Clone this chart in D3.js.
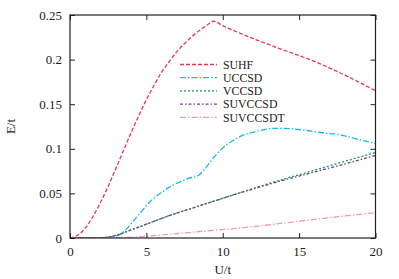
<!DOCTYPE html>
<html>
<head>
<meta charset="utf-8">
<script src="https://d3js.org/d3.v7.min.js"></script>
<style>
  body { margin: 0; background: #fff; }
</style>
</head>
<body>
<script>
// values
var suhfU = [0, 0.5, 1, 1.5, 2, 2.5, 3, 3.5, 4, 4.5, 5, 5.5, 6, 6.5, 7, 7.5, 8, 8.5, 9, 9.4, 10, 11, 12, 13, 14, 15, 16, 17, 18, 19, 20];
var suhfE = [0, 0.003, 0.011, 0.024, 0.040, 0.058, 0.078, 0.098, 0.118, 0.137, 0.155, 0.171, 0.186, 0.198, 0.209, 0.218, 0.226, 0.233, 0.239, 0.243, 0.238, 0.2305, 0.2235, 0.217, 0.2105, 0.2045, 0.198, 0.1905, 0.1825, 0.174, 0.165];

var uccsdU = [0, 1, 2, 2.5, 3, 3.3, 3.7, 4, 4.6, 5.2, 5.9, 6.5, 7.2, 7.8, 8.4, 8.8, 9.4, 10, 10.7, 11.3, 12.2, 13.5, 14.5, 15.5, 16.5, 17.7, 19, 20];
var uccsdE = [0, 0, 0.0005, 0.001, 0.002, 0.004, 0.010, 0.016, 0.028, 0.040, 0.050, 0.057, 0.063, 0.067, 0.070, 0.077, 0.090, 0.101, 0.1095, 0.115, 0.1195, 0.123, 0.1225, 0.1205, 0.118, 0.1155, 0.110, 0.106];

var vccsdU = [0, 1, 2, 2.5, 3, 4, 5, 6, 7, 8, 9, 10, 11, 12, 13, 14, 15, 16, 17, 18, 19, 20];
var vccsdE = [0, 0, 0.0003, 0.001, 0.003, 0.009, 0.0155, 0.022, 0.028, 0.0335, 0.039, 0.0445, 0.050, 0.0555, 0.061, 0.066, 0.071, 0.076, 0.081, 0.086, 0.091, 0.0958];

var suvccsdU = [0, 1, 2, 2.5, 3, 4, 5, 6, 7, 8, 9, 10, 11, 12, 13, 14, 15, 16, 17, 18, 19, 20];
var suvccsdE = [0, 0, 0.0003, 0.001, 0.003, 0.009, 0.0155, 0.022, 0.028, 0.0335, 0.039, 0.0445, 0.050, 0.055, 0.060, 0.065, 0.0695, 0.074, 0.0785, 0.083, 0.0878, 0.0925];

var suvccsdtU = [0, 2, 3, 4, 5, 6, 7, 8, 9, 10, 11, 12, 14, 16, 18, 20];
var suvccsdtE = [0, 0, 0.0002, 0.0008, 0.002, 0.0035, 0.005, 0.0065, 0.008, 0.0095, 0.011, 0.0128, 0.0168, 0.0208, 0.0247, 0.0285];

var xTicks = [0, 5, 10, 15, 20];
var yTicks = [0, 0.05, 0.1, 0.15, 0.2, 0.25];
var yTickLabels = ["0", "0.05", "0.1", "0.15", "0.2", "0.25"];

var seriesNames = ["SUHF", "UCCSD", "VCCSD", "SUVCCSD", "SUVCCSDT"];
var seriesColors = ["#e8365a", "#1ab6ee", "#0f9a6e", "#7a3f80", "#f59aac"];
var seriesDash = ["4,2", "6,2,1.5,2", "2,2", "3,2,1.5,2", "6,2,1.5,2"];
var seriesU = [suhfU, uccsdU, vccsdU, suvccsdU, suvccsdtU];
var seriesE = [suhfE, uccsdE, vccsdE, suvccsdE, suvccsdtE];

var FONT = "Liberation Serif, DejaVu Serif, serif";
var width = 399, height = 279;
var margin = {left: 70, right: 23.5, top: 15, bottom: 41};

var svg = d3.select("body").append("svg")
  .attr("width", width)
  .attr("height", height);

var x = d3.scaleLinear().domain([0, 20]).range([margin.left, width - margin.right]);
var y = d3.scaleLinear().domain([0, 0.25]).range([height - margin.bottom, margin.top]);

svg.append("clipPath").attr("id", "plotclip")
  .append("rect")
  .attr("x", x(0)).attr("y", y(0.25))
  .attr("width", x(20) - x(0)).attr("height", y(0) - y(0.25));

var line = d3.line()
  .x(function(d) { return x(d[0]); })
  .y(function(d) { return y(d[1]); })
  .curve(d3.curveMonotoneX);

for (var i = 0; i < seriesNames.length; i++) {
  var pts = seriesU[i].map(function(u, j) { return [u, seriesE[i][j]]; });
  svg.append("path")
    .datum(pts)
    .attr("d", line)
    .attr("clip-path", "url(#plotclip)")
    .attr("fill", "none")
    .attr("stroke", seriesColors[i])
    .attr("stroke-width", 1.3)
    .attr("stroke-dasharray", seriesDash[i]);
}

// axes: ticks inward on all sides
var tickLen = 5;
svg.append("g")
  .attr("transform", "translate(0," + y(0) + ")")
  .call(d3.axisBottom(x).tickValues(xTicks).tickSizeInner(-tickLen).tickSizeOuter(0).tickPadding(9))
  .call(function(g) { g.select(".domain").remove(); });
svg.append("g")
  .attr("transform", "translate(0," + y(0.25) + ")")
  .call(d3.axisTop(x).tickValues(xTicks).tickSizeInner(-tickLen).tickSizeOuter(0).tickFormat(""))
  .call(function(g) { g.select(".domain").remove(); });
svg.append("g")
  .attr("transform", "translate(" + x(0) + ",0)")
  .call(d3.axisLeft(y).tickValues(yTicks).tickSizeInner(-tickLen).tickSizeOuter(0).tickPadding(8)
    .tickFormat(function(d, i) { return yTickLabels[i]; }))
  .call(function(g) { g.select(".domain").remove(); });
svg.append("g")
  .attr("transform", "translate(" + x(20) + ",0)")
  .call(d3.axisRight(y).tickValues(yTicks).tickSizeInner(-tickLen).tickSizeOuter(0).tickFormat(""))
  .call(function(g) { g.select(".domain").remove(); });

svg.selectAll(".tick line").attr("stroke", "#222");

svg.append("rect")
  .attr("x", x(0)).attr("y", y(0.25))
  .attr("width", x(20) - x(0)).attr("height", y(0) - y(0.25))
  .attr("fill", "none").attr("stroke", "#222").attr("stroke-width", 1.2);

// axis labels
svg.append("text")
  .attr("x", (x(0) + x(20)) / 2).attr("y", 274)
  .attr("text-anchor", "middle")
  .text("U/t");
svg.append("text")
  .attr("transform", "translate(15," + ((y(0) + y(0.25)) / 2) + ") rotate(-90)")
  .attr("text-anchor", "middle")
  .text("E/t");

svg.selectAll("text")
  .attr("font-family", FONT)
  .attr("font-size", "13px")
  .attr("fill", "#222");

// legend
var legend = svg.append("g");
for (var k = 0; k < seriesNames.length; k++) {
  var ly = 64.5 + k * 13.2;
  legend.append("line")
    .attr("x1", 180).attr("x2", 217)
    .attr("y1", ly).attr("y2", ly)
    .attr("stroke", seriesColors[k])
    .attr("stroke-width", 1.3)
    .attr("stroke-dasharray", seriesDash[k]);
  legend.append("text")
    .attr("x", 223).attr("y", ly + 4.3)
    .attr("font-family", FONT)
    .attr("font-size", "11.8px")
    .attr("fill", "#222")
    .text(seriesNames[k]);
}
</script>
</body>
</html>
